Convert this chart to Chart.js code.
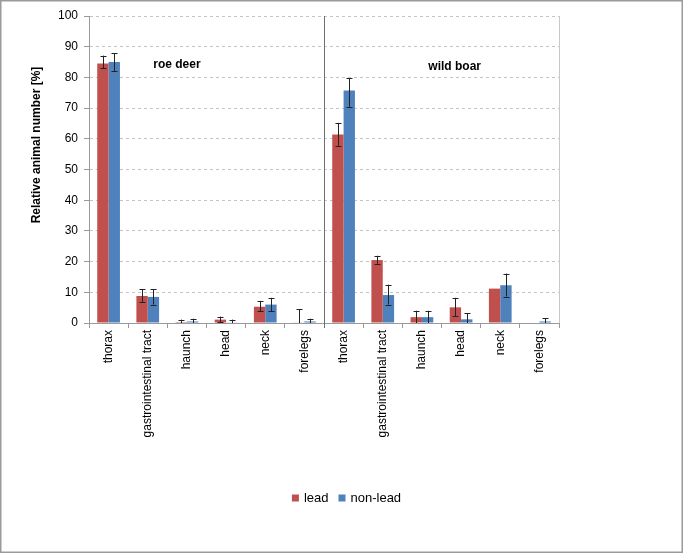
<!DOCTYPE html>
<html>
<head>
<meta charset="utf-8">
<script src="https://cdn.jsdelivr.net/npm/chart.js"></script>
<style>
    body { margin: 0; background: #fff; }
    #grafico { display: block; }
</style>
</head>
<body>
<canvas id="grafico" width="683" height="553"></canvas>
<script>
// Datos (roe deer: 6 primeras, wild boar: 6 últimas)
const categorias = ['thorax', 'gastrointestinal tract', 'haunch', 'head', 'neck', 'forelegs',
                    'thorax', 'gastrointestinal tract', 'haunch', 'head', 'neck', 'forelegs'];
const valoresLead = [84.5, 8.8, 0.3, 1.1, 5.3, 0.2, 61.4, 20.5, 1.9, 5.1, 11.2, 0];
const errorLeadBajo = [83, 6.7, 0, 0.3, 3.8, 0, 57.7, 19.3, 0, 2.3, null, null];
const errorLeadAlto = [87.1, 11, 1.1, 2.1, 7.2, 4.4, 65.2, 21.9, 4, 8.2, null, null];
const valoresNonLead = [85, 8.5, 0.5, 0.2, 6, 0.5, 75.7, 9.1, 1.9, 1.2, 12.3, 0.5];
const errorNonBajo = [82.1, 6, 0, 0, 3.8, 0, 70.4, 6, 0, 0, 8.6, 0];
const errorNonAlto = [87.8, 11, 1.4, 1.1, 8.2, 1.4, 79.8, 12.5, 4, 3.1, 16.1, 1.6];
const ticksY = [0, 10, 20, 30, 40, 50, 60, 70, 80, 90, 100];
const grupos = ['roe deer', 'wild boar'];

const errores = [
    { bajo: errorLeadBajo, alto: errorLeadAlto },
    { bajo: errorNonBajo, alto: errorNonAlto }
];

const fuente = '"Liberation Sans", Arial, sans-serif';

// Fondo y marco exterior
const pluginFondo = {
    id: 'fondo',
    beforeDraw(chart) {
        const ctx = chart.ctx;
        ctx.save();
        ctx.fillStyle = '#fff';
        ctx.fillRect(0, 0, chart.width, chart.height);
        ctx.strokeStyle = '#9a9a9a';
        ctx.lineWidth = 1.5;
        ctx.strokeRect(0.75, 0.75, chart.width - 1.5, chart.height - 1.5);
        ctx.restore();
    }
};

// Barras de error, separador, leyenda y textos
const pluginExtras = {
    id: 'extras',
    afterDatasetsDraw(chart) {
        const ctx = chart.ctx;
        const y = chart.scales.y;
        const x = chart.scales.x;
        const area = chart.chartArea;
        ctx.save();

        // borde derecho del área
        ctx.strokeStyle = '#c8c8c8';
        ctx.lineWidth = 1;
        ctx.beginPath();
        ctx.moveTo(area.right + 0.5, area.top);
        ctx.lineTo(area.right + 0.5, area.bottom);
        ctx.stroke();

        // separador entre especies
        const xSep = (x.getPixelForValue(5) + x.getPixelForValue(6)) / 2;
        ctx.strokeStyle = '#6e6e6e';
        ctx.beginPath();
        ctx.moveTo(Math.round(xSep) + 0.5, area.top);
        ctx.lineTo(Math.round(xSep) + 0.5, area.bottom + 5);
        ctx.stroke();

        // barras de error
        ctx.strokeStyle = '#222';
        ctx.lineWidth = 1;
        chart.data.datasets.forEach((ds, i) => {
            const meta = chart.getDatasetMeta(i);
            meta.data.forEach((barra, j) => {
                const lo = errores[i].bajo[j];
                const hi = errores[i].alto[j];
                if (lo === null || hi === null) return;
                const bx = Math.round(barra.x) + 0.5;
                const y1 = y.getPixelForValue(lo);
                const y2 = y.getPixelForValue(hi);
                ctx.beginPath();
                ctx.moveTo(bx, y1);
                ctx.lineTo(bx, y2);
                ctx.moveTo(bx - 3, Math.round(y2) + 0.5);
                ctx.lineTo(bx + 3, Math.round(y2) + 0.5);
                if (lo > 0) {
                    ctx.moveTo(bx - 3, Math.round(y1) + 0.5);
                    ctx.lineTo(bx + 3, Math.round(y1) + 0.5);
                }
                ctx.stroke();
            });
        });

        // nombres de grupos
        ctx.fillStyle = '#000';
        ctx.font = 'bold 12px ' + fuente;
        ctx.textAlign = 'center';
        ctx.textBaseline = 'middle';
        ctx.fillText(grupos[0], area.left + area.width * 0.187, area.top + 49);
        ctx.fillText(grupos[1], area.left + area.width * 0.778, area.top + 51);

        // leyenda
        ctx.font = '13px ' + fuente;
        ctx.textAlign = 'left';
        const items = chart.data.datasets.map(ds => ({
            texto: ds.label,
            color: ds.backgroundColor,
            ancho: 12 + ctx.measureText(ds.label).width
        }));
        const total = items.reduce((acc, it) => acc + it.ancho, 0) + 10 * (items.length - 1);
        let lx = 346.5 - total / 2;
        const ly = 498;
        items.forEach((it) => {
            ctx.fillStyle = it.color;
            ctx.fillRect(lx, ly - 3.5, 7, 7);
            ctx.fillStyle = '#000';
            ctx.fillText(it.texto, lx + 12, ly + 0.5);
            lx += it.ancho + 10;
        });

        // título del eje Y
        ctx.font = 'bold 12px ' + fuente;
        ctx.textAlign = 'center';
        ctx.translate(37, area.top + 129);
        ctx.rotate(-Math.PI / 2);
        ctx.fillText('Relative animal number [%]', 0, 0);
        ctx.restore();
    }
};

const ctx = document.getElementById('grafico').getContext('2d');
const grafico = new Chart(ctx, {
    type: 'bar',
    data: {
        labels: categorias,
        datasets: [
            {
                label: 'lead',
                data: valoresLead,
                backgroundColor: '#C0504D',
                barPercentage: 1,
                categoryPercentage: 0.58
            },
            {
                label: 'non-lead',
                data: valoresNonLead,
                backgroundColor: '#4F81BD',
                barPercentage: 1,
                categoryPercentage: 0.58
            }
        ]
    },
    options: {
        responsive: false,
        animation: false,
        layout: { padding: { top: 16, right: 124, left: 0, bottom: 71 } },
        plugins: {
            legend: { display: false },
            tooltip: { enabled: false }
        },
        scales: {
            x: {
                afterFit(scale) { scale.height = 159; },
                grid: {
                    offset: true,
                    drawOnChartArea: false,
                    drawTicks: true,
                    tickLength: 5,
                    color: '#9a9a9a'
                },
                border: { color: '#9a9a9a' },
                ticks: {
                    autoSkip: false,
                    minRotation: 90,
                    maxRotation: 90,
                    padding: 2,
                    color: '#000',
                    font: { size: 12, family: fuente }
                }
            },
            y: {
                min: 0,
                max: 100,
                afterFit(scale) { scale.width = 89; },
                afterBuildTicks(scale) { scale.ticks = ticksY.map(v => ({ value: v })); },
                grid: {
                    color: '#c4c4c4',
                    tickColor: '#9a9a9a',
                    tickLength: 5,
                    drawTicks: true
                },
                border: { color: '#9a9a9a', dash: [3, 3], display: true },
                ticks: {
                    padding: 6,
                    color: '#000',
                    font: { size: 12, family: fuente }
                }
            }
        }
    },
    plugins: [pluginFondo, pluginExtras]
});
</script>
</body>
</html>
